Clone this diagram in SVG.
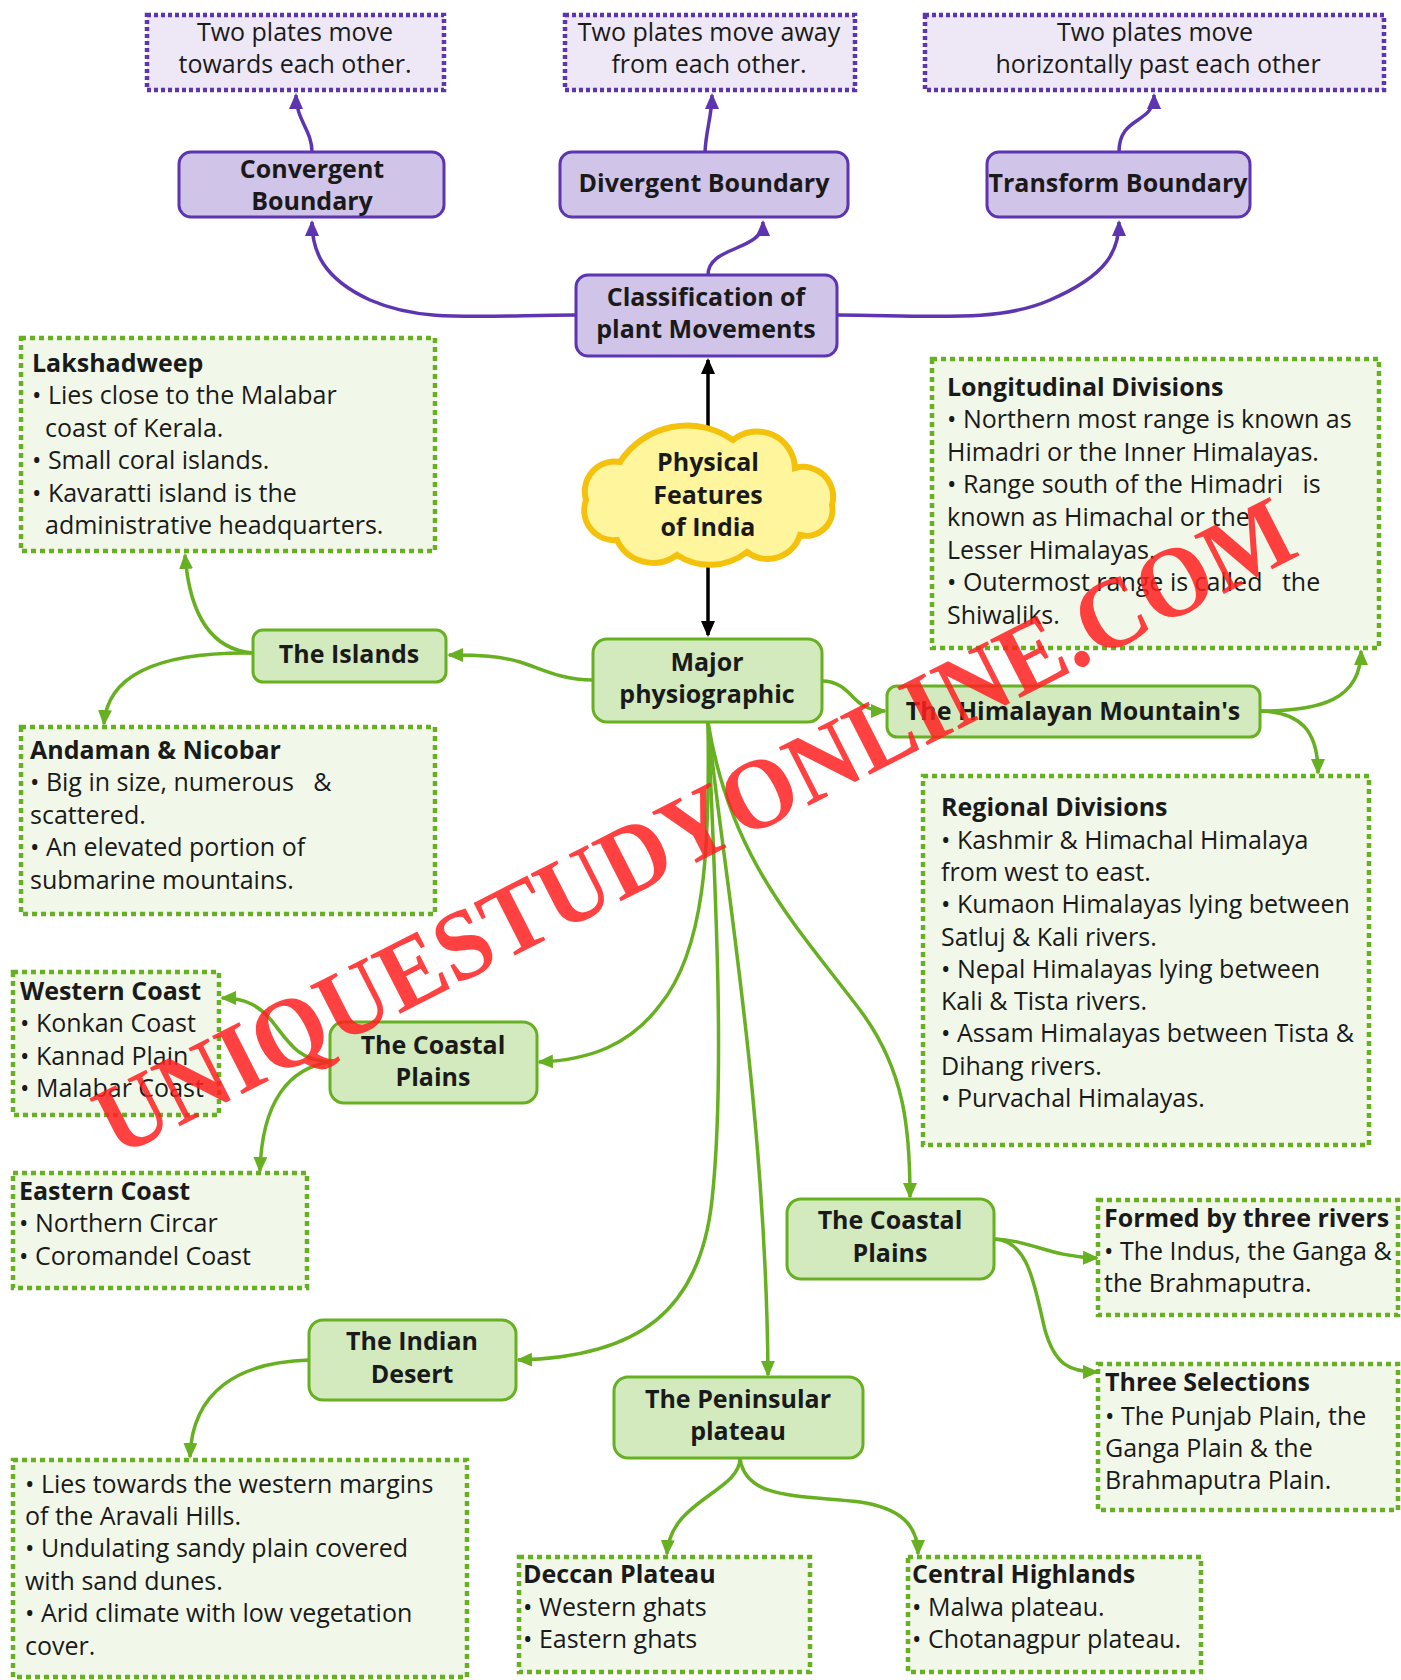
<svg xmlns="http://www.w3.org/2000/svg" width="1401" height="1680" viewBox="0 0 1401 1680">
<defs>
<style>
text{font-family:"Open Sans","Noto Sans","DejaVu Sans",sans-serif;font-size:25px;fill:#1a1a1a}
.b{font-weight:bold}
.c{text-anchor:middle}
.pn{fill:#d1c4e9;stroke:#5e35b1;stroke-width:3}
.pd{fill:#ede7f6;stroke:#5e35b1;stroke-width:4.5;stroke-dasharray:4 3}
.gn{fill:#d3eabf;stroke:#67b021;stroke-width:3}
.gd{fill:#f1f8e9;stroke:#67b021;stroke-width:4.5;stroke-dasharray:5 4}
.pc{fill:none;stroke:#5e35b1;stroke-width:3.5}
.gc{fill:none;stroke:#67b021;stroke-width:3.5}
.kc{fill:none;stroke:#000;stroke-width:3.5}
.wm{font-family:"Liberation Serif","Times New Roman",serif;font-weight:bold;font-size:100px;fill:#ff2020;fill-opacity:0.85}
</style>
<marker id="ap" markerUnits="userSpaceOnUse" markerWidth="18" markerHeight="16" refX="14" refY="7" orient="auto"><path d="M0,0 L16,7 L0,14 Z" fill="#5e35b1"/></marker>
<marker id="ag" markerUnits="userSpaceOnUse" markerWidth="18" markerHeight="16" refX="14" refY="7" orient="auto"><path d="M0,0 L16,7 L0,14 Z" fill="#67b021"/></marker>
<marker id="ak" markerUnits="userSpaceOnUse" markerWidth="18" markerHeight="16" refX="14" refY="7" orient="auto"><path d="M0,0 L16,7 L0,14 Z" fill="#000"/></marker>
</defs>
<rect width="1401" height="1680" fill="#fff"/>

<g id="connectors">
<path class="pc" marker-end="url(#ap)" d="M312,152 C312,130 296,120 296,95"/>
<path class="pc" marker-end="url(#ap)" d="M705,152 C706,130 712,115 712,95"/>
<path class="pc" marker-end="url(#ap)" d="M1119,152 C1119,115 1154,125 1154,95"/>
<path class="pc" marker-end="url(#ap)" d="M708,275 C708,245 763,252 763,222"/>
<path class="pc" marker-end="url(#ap)" d="M576,315 C470,316 420,322 370,300 C322,278 312,250 312,222"/>
<path class="pc" marker-end="url(#ap)" d="M837,315 C940,316 1000,322 1050,300 C1108,275 1119,250 1119,222"/>
<path class="kc" marker-end="url(#ak)" d="M708,427 L708,360"/>
<path class="kc" marker-end="url(#ak)" d="M708,566 L708,635"/>
<path class="gc" marker-end="url(#ag)" d="M593,680 C560,680 540,668 520,662 C500,656 480,655 449,655"/>
<path class="gc" marker-end="url(#ag)" d="M253,653 C215,650 190,620 185,555"/>
<path class="gc" marker-end="url(#ag)" d="M253,653 C180,652 108,665 104,724"/>
<path class="gc" marker-end="url(#ag)" d="M822,681 C845,681 852,700 864,706 C872,710 878,711 885,711"/>
<path class="gc" marker-end="url(#ag)" d="M1260,711 C1320,711 1361,700 1361,651"/>
<path class="gc" marker-end="url(#ag)" d="M1260,711 C1300,712 1318,730 1318,773"/>
<path class="gc" marker-end="url(#ag)" d="M708,722 C710,850 705,950 660,1005 C630,1045 590,1060 539,1062"/>
<path class="gc" marker-end="url(#ag)" d="M708,722 C716,900 725,1080 712,1200 C700,1310 640,1357 518,1360"/>
<path class="gc" marker-end="url(#ag)" d="M708,722 C720,850 766,1100 768,1375"/>
<path class="gc" marker-end="url(#ag)" d="M708,722 C730,860 800,930 860,1010 C905,1070 910,1130 910,1197"/>
<path class="gc" marker-end="url(#ag)" d="M330,1062 C300,1060 290,1045 275,1025 C260,1005 245,998 222,998"/>
<path class="gc" marker-end="url(#ag)" d="M330,1062 C290,1068 262,1100 260,1171"/>
<path class="gc" marker-end="url(#ag)" d="M994,1239 C1030,1240 1050,1257 1097,1258"/>
<path class="gc" marker-end="url(#ag)" d="M994,1239 C1030,1240 1035,1290 1045,1330 C1055,1365 1070,1372 1097,1372"/>
<path class="gc" marker-end="url(#ag)" d="M309,1360 C240,1362 192,1390 190,1457"/>
<path class="gc" marker-end="url(#ag)" d="M740,1458 C740,1492 670,1500 667,1554"/>
<path class="gc" marker-end="url(#ag)" d="M740,1458 C745,1500 800,1495 860,1502 C900,1508 918,1525 918,1554"/>
</g>

<g id="desc-convergent"><rect class="pd" x="147" y="15" width="297" height="75"/>
<text class="c" x="295" y="41">Two plates move</text><text class="c" x="295" y="73">towards each other.</text></g>
<g id="desc-divergent"><rect class="pd" x="565" y="15" width="290" height="75"/>
<text class="c" x="709" y="41">Two plates move away</text><text class="c" x="709" y="73">from each other.</text></g>
<g id="desc-transform"><rect class="pd" x="925" y="15" width="459" height="75"/>
<text class="c" x="1155" y="41">Two plates move</text><text class="c" x="1158" y="73">horizontally past each other</text></g>

<g id="convergent"><rect class="pn" x="179" y="152" width="265" height="65" rx="12"/>
<text class="b c" x="312" y="178">Convergent</text><text class="b c" x="312" y="210">Boundary</text></g>
<g id="divergent"><rect class="pn" x="560" y="152" width="288" height="65" rx="12"/>
<text class="b c" x="704" y="192">Divergent Boundary</text></g>
<g id="transform"><rect class="pn" x="987" y="152" width="263" height="65" rx="12"/>
<text class="b c" x="1118" y="192">Transform Boundary</text></g>
<g id="classification"><rect class="pn" x="576" y="275" width="261" height="81" rx="12"/>
<text class="b c" x="706" y="306">Classification of</text><text class="b c" x="706" y="338">plant Movements</text></g>

<g id="physical-features">
<path d="M586,500 A30 30 0 0 1 620,462 A80 80 0 0 1 733,440 A38 38 0 0 1 795,468 A30 30 0 0 1 832,505 A26 26 0 0 1 800,535 A34 34 0 0 1 747,552 A60 60 0 0 1 677,555 A40 40 0 0 1 617,540 A30 30 0 0 1 586,500 Z" fill="#fff59d" stroke="#f4c20d" stroke-width="6"/>
<text class="b c" x="708" y="471">Physical</text><text class="b c" x="708" y="504">Features</text><text class="b c" x="708" y="536">of India</text></g>

<g id="major"><rect class="gn" x="593" y="639" width="229" height="83" rx="14"/>
<text class="b c" x="707" y="671">Major</text><text class="b c" x="707" y="703">physiographic</text></g>
<g id="islands"><rect class="gn" x="253" y="630" width="193" height="52" rx="10"/>
<text class="b c" x="349" y="663">The Islands</text></g>
<g id="himalayan"><rect class="gn" x="887" y="686" width="373" height="51" rx="10"/>
<text class="b c" x="1073" y="720">The Himalayan Mountain's</text></g>
<g id="coastal-left"><rect class="gn" x="330" y="1022" width="207" height="81" rx="14"/>
<text class="b c" x="433" y="1054">The Coastal</text><text class="b c" x="433" y="1086">Plains</text></g>
<g id="coastal-right"><rect class="gn" x="787" y="1199" width="207" height="80" rx="14"/>
<text class="b c" x="890" y="1229">The Coastal</text><text class="b c" x="890" y="1262">Plains</text></g>
<g id="indian-desert"><rect class="gn" x="309" y="1320" width="207" height="80" rx="14"/>
<text class="b c" x="412" y="1350">The Indian</text><text class="b c" x="412" y="1383">Desert</text></g>
<g id="peninsular"><rect class="gn" x="614" y="1377" width="249" height="81" rx="14"/>
<text class="b c" x="738" y="1408">The Peninsular</text><text class="b c" x="738" y="1440">plateau</text></g>

<g id="lakshadweep"><rect class="gd" x="21" y="338" width="414" height="213"/>
<text class="b" x="32" y="372">Lakshadweep</text>
<text x="32" y="404">• Lies close to the Malabar</text>
<text x="45" y="437">coast of Kerala.</text>
<text x="32" y="469">• Small coral islands.</text>
<text x="32" y="502">• Kavaratti island is the</text>
<text x="45" y="534">administrative headquarters.</text></g>

<g id="andaman"><rect class="gd" x="21" y="727" width="414" height="187"/>
<text class="b" x="30" y="759">Andaman &amp; Nicobar</text>
<text x="30" y="791" xml:space="preserve">• Big in size, numerous   &amp;</text>
<text x="30" y="824">scattered.</text>
<text x="30" y="856">• An elevated portion of</text>
<text x="30" y="889">submarine mountains.</text></g>

<g id="longitudinal"><rect class="gd" x="932" y="359" width="447" height="289"/>
<text class="b" x="947" y="396">Longitudinal Divisions</text>
<text x="947" y="428">• Northern most range is known as</text>
<text x="947" y="461">Himadri or the Inner Himalayas.</text>
<text x="947" y="493" xml:space="preserve">• Range south of the Himadri   is</text>
<text x="947" y="526">known as Himachal or the</text>
<text x="947" y="559">Lesser Himalayas.</text>
<text x="947" y="591" xml:space="preserve">• Outermost range is called   the</text>
<text x="947" y="624">Shiwaliks.</text></g>

<g id="regional"><rect class="gd" x="923" y="776" width="446" height="369"/>
<text class="b" x="941" y="816">Regional Divisions</text>
<text x="941" y="849">• Kashmir &amp; Himachal Himalaya</text>
<text x="941" y="881">from west to east.</text>
<text x="941" y="913">• Kumaon Himalayas lying between</text>
<text x="941" y="946">Satluj &amp; Kali rivers.</text>
<text x="941" y="978">• Nepal Himalayas lying between</text>
<text x="941" y="1010">Kali &amp; Tista rivers.</text>
<text x="941" y="1042">• Assam Himalayas between Tista &amp;</text>
<text x="941" y="1075">Dihang rivers.</text>
<text x="941" y="1107">• Purvachal Himalayas.</text></g>

<g id="western-coast"><rect class="gd" x="13" y="972" width="206" height="143"/>
<text class="b" x="20" y="1000">Western Coast</text>
<text x="20" y="1032">• Konkan Coast</text>
<text x="20" y="1065">• Kannad Plain</text>
<text x="20" y="1097">• Malabar Coast</text></g>

<g id="eastern-coast"><rect class="gd" x="13" y="1173" width="294" height="115"/>
<text class="b" x="19" y="1200">Eastern Coast</text>
<text x="19" y="1232">• Northern Circar</text>
<text x="19" y="1265">• Coromandel Coast</text></g>

<g id="desert-info"><rect class="gd" x="13" y="1460" width="454" height="217"/>
<text x="25" y="1493">• Lies towards the western margins</text>
<text x="25" y="1525">of the Aravali Hills.</text>
<text x="25" y="1557">• Undulating sandy plain covered</text>
<text x="25" y="1590">with sand dunes.</text>
<text x="25" y="1622">• Arid climate with low vegetation</text>
<text x="25" y="1655">cover.</text></g>

<g id="deccan"><rect class="gd" x="519" y="1557" width="291" height="115"/>
<text class="b" x="523" y="1583">Deccan Plateau</text>
<text x="523" y="1616">• Western ghats</text>
<text x="523" y="1648">• Eastern ghats</text></g>

<g id="central"><rect class="gd" x="908" y="1557" width="293" height="115"/>
<text class="b" x="912" y="1583">Central Highlands</text>
<text x="912" y="1616">• Malwa plateau.</text>
<text x="912" y="1648">• Chotanagpur plateau.</text></g>

<g id="formed"><rect class="gd" x="1098" y="1200" width="300" height="115"/>
<text class="b" x="1104" y="1227">Formed by three rivers</text>
<text x="1104" y="1260">• The Indus, the Ganga &amp;</text>
<text x="1104" y="1292">the Brahmaputra.</text></g>

<g id="three-selections"><rect class="gd" x="1098" y="1364" width="300" height="146"/>
<text class="b" x="1105" y="1391">Three Selections</text>
<text x="1105" y="1425">• The Punjab Plain, the</text>
<text x="1105" y="1457">Ganga Plain &amp; the</text>
<text x="1105" y="1489">Brahmaputra Plain.</text></g>

<g id="watermark"><text class="wm" transform="translate(117,1158) rotate(-27)" x="0" y="0" textLength="1330" lengthAdjust="spacingAndGlyphs">UNIQUESTUDYONLINE.COM</text></g>
</svg>
